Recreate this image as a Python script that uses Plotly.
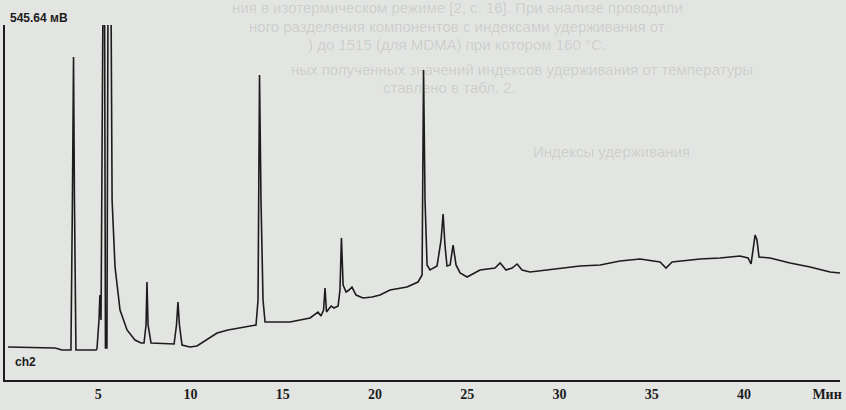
import plotly.graph_objects as go

# Retention time, min
time_min = [0.11, 2.66, 3.04, 3.52, 3.60, 3.66, 3.71, 3.79, 4.88,
            4.93, 5.04, 5.09, 5.15, 5.20, 5.26, 5.34, 5.39, 5.47, 5.53, 5.69, 5.75, 5.91, 6.18, 6.56,
            6.99, 7.32, 7.48, 7.59, 7.64, 7.70, 7.86, 9.11, 9.24, 9.32,
            9.40, 9.54, 9.97, 10.35, 10.89, 11.44, 12.03, 12.95, 13.55, 13.66, 13.74, 13.82, 13.93, 14.04,
            15.39, 16.48, 16.91, 17.07, 17.21, 17.29, 17.37, 17.62, 17.78, 18.00, 18.10, 18.18, 18.27,
            18.43, 18.59, 18.75, 18.97, 19.35, 19.84, 20.27, 20.81, 21.73, 22.33, 22.55, 22.63, 22.71,
            22.82, 22.98, 23.36, 23.58, 23.69, 23.79, 23.90, 24.07, 24.23, 24.39, 24.61, 24.99, 25.69,
            26.50, 26.78, 27.10, 27.43, 27.70, 27.97, 28.40, 29.32, 30.03, 31.11, 32.20, 33.28, 34.36,
            35.45, 35.77, 36.10, 37.61, 38.70, 39.78, 40.22, 40.38, 40.49, 40.60, 40.70, 40.81, 41.41,
            42.49, 43.58, 44.66, 45.20]
# Detector signal, mV
signal_mv = [50.7, 49.2, 46.1, 46.1, 276.7, 496.5, 276.7, 46.1, 46.1,
             47.6, 92.2, 130.6, 92.2, 276.7, 600.0, 600.0, 49.2, 49.2, 600.0, 600.0, 276.7, 173.7, 107.6, 76.9,
             61.5, 56.9, 56.9, 84.5, 150.6, 84.5, 56.9, 55.3, 84.5, 119.9,
             84.5, 53.8, 50.7, 52.3, 61.5, 72.2, 76.9, 81.5, 84.5, 123.0, 468.8, 276.7, 123.0, 89.1,
             89.1, 95.3, 104.5, 98.4, 107.6, 141.4, 104.5, 113.7, 110.7, 113.7, 138.3, 218.3, 146.0,
             135.3, 138.3, 142.9, 130.6, 126.0, 127.6, 130.6, 138.3, 142.9, 150.6, 161.4, 476.5, 276.7,
             176.8, 169.1, 175.2, 215.2, 255.1, 207.5, 175.2, 176.8, 207.5, 176.8, 164.5, 158.3, 169.1,
             172.1, 179.8, 169.1, 172.1, 178.3, 169.1, 166.0, 169.1, 172.1, 175.2, 176.8, 182.9, 186.0,
             181.4, 172.1, 181.4, 186.0, 187.5, 190.6, 187.5, 178.3, 199.8, 222.9, 215.2, 189.1, 187.5,
             179.8, 173.7, 166.0, 164.5]

tick_vals = [5, 10, 15, 20, 25, 30, 35, 40, 44.5]
tick_text = ["5", "10", "15", "20", "25", "30", "35", "40", "Мин"]
y_max_label = "545.64 мВ"
channel_label = "ch2"

BG = "#e3e5e2"
INK = "#1c1c1c"
GHOST = "rgba(60,60,60,0.15)"

fig = go.Figure()
fig.add_trace(go.Scatter(x=time_min, y=signal_mv, mode="lines",
                         line=dict(color=INK, width=1.6), hoverinfo="skip", showlegend=False))

fig.update_layout(
    width=846, height=410,
    margin=dict(l=5, r=6, t=25, b=30, pad=0, autoexpand=False),
    paper_bgcolor=BG, plot_bgcolor=BG,
    showlegend=False,
    xaxis=dict(range=[-0.054, 45.2], showgrid=False, zeroline=False, automargin=False,
               showline=True, linecolor=INK, linewidth=2,
               tickvals=tick_vals, ticktext=tick_text, ticks="",
               tickfont=dict(family="Liberation Serif", size=14, color=INK, weight="bold")),
    yaxis=dict(range=[0, 545.64], showgrid=False, zeroline=False, automargin=False,
               showline=True, linecolor=INK, linewidth=1.6,
               showticklabels=False, ticks=""),
)

fig.add_annotation(text=y_max_label, xref="paper", yref="paper", x=0.004, y=1.02,
                   xanchor="left", yanchor="middle", showarrow=False,
                   font=dict(family="Liberation Sans Narrow, Liberation Sans", size=12, color=INK, weight="bold"))
fig.add_annotation(text=channel_label, xref="paper", yref="paper", x=0.009, y=0.05,
                   xanchor="left", yanchor="middle", showarrow=False,
                   font=dict(family="Liberation Sans", size=12, color=INK, weight="bold"))

# faint show-through text of the printed page
ghost_lines = [
    ("ния в изотермическом режиме [2, с. 16]. При анализе проводили", 0.27, 1.05),
    ("ного разделения компонентов с индексами удерживания от", 0.29, 0.995),
    (") до 1515 (для MDMA) при котором 160 °C.", 0.36, 0.945),
    ("ных полученных значений индексов удерживания от температуры", 0.34, 0.875),
    ("ставлено в табл. 2.", 0.45, 0.825),
    ("Индексы удерживания", 0.63, 0.645),
]
for txt, gx, gy in ghost_lines:
    fig.add_annotation(text=txt, xref="paper", yref="paper", x=gx, y=gy,
                       xanchor="left", yanchor="middle", showarrow=False,
                       font=dict(family="Liberation Sans", size=15, color=GHOST))

fig.write_html("out.html", config={"displayModeBar": False},
               post_script="document.body.style.margin='0';document.body.style.background='" + BG + "';")
